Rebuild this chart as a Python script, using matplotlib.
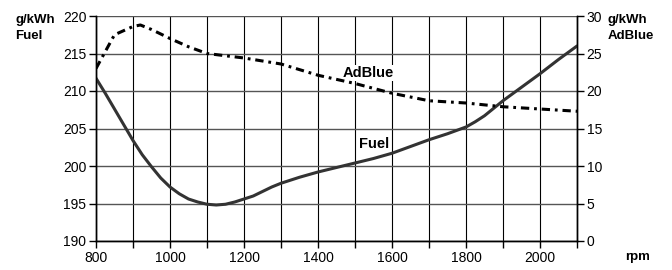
import matplotlib
matplotlib.use("Agg")
import matplotlib.pyplot as plt
from matplotlib.ticker import MultipleLocator

plt.rcParams['font.family'] = ['Liberation Sans', 'DejaVu Sans']
plt.rcParams['lines.scale_dashes'] = False

rpm = [800, 825, 850, 875, 900, 925, 950, 975, 1000, 1025, 1050, 1075, 1100, 1125, 1150, 1175,
       1200, 1225, 1250, 1275, 1300, 1350, 1400, 1450, 1500, 1550, 1600, 1650, 1700, 1750,
       1800, 1825, 1850, 1875, 1900, 1950, 2000, 2050, 2100]
fuel = [211.7, 209.7, 207.6, 205.5, 203.4, 201.5, 199.9, 198.4, 197.2, 196.3, 195.6, 195.2,
        194.9, 194.8, 194.9, 195.2, 195.6, 196.0, 196.6, 197.2, 197.7, 198.5, 199.2, 199.8,
        200.4, 201.0, 201.7, 202.6, 203.5, 204.3, 205.2, 205.9, 206.7, 207.7, 208.7, 210.5,
        212.3, 214.2, 216.0]

rpm_ad = [800, 850, 900, 920, 950, 1000, 1050, 1100, 1200, 1300, 1400, 1500, 1600, 1700, 1800, 1900, 2000, 2100]
adblue = [23.0, 27.5, 28.6, 28.8, 28.2, 27.0, 25.9, 25.0, 24.4, 23.6, 22.1, 21.0, 19.7, 18.7, 18.4, 17.9, 17.6, 17.3]

xticks = [800, 1000, 1200, 1400, 1600, 1800, 2000]

fig = plt.figure(figsize=(6.72, 2.70), dpi=100)
ax = fig.add_axes([96/672, 1-241/270, (577-96)/672, (241-16)/270])
ax2 = ax.twinx()

ax.set_xlim(800, 2100)
ax.set_ylim(190, 220)
ax2.set_ylim(0, 30)

ax.set_xticks(xticks)
ax.xaxis.set_minor_locator(MultipleLocator(100))
ax.yaxis.set_major_locator(MultipleLocator(5))
ax2.yaxis.set_major_locator(MultipleLocator(5))

ax.grid(True, which='minor', axis='x', color='black', linewidth=0.8)
ax.grid(True, which='major', axis='x', color='black', linewidth=0.8)
ax.grid(True, which='major', axis='y', color='#555555', linewidth=1.0)
ax.set_axisbelow(True)

for a in (ax, ax2):
    a.spines['top'].set_visible(False)
    a.spines['left'].set_linewidth(1.0)
    a.spines['right'].set_linewidth(1.0)
    a.spines['bottom'].set_linewidth(1.0)

ax.tick_params(axis='both', which='both', direction='out', length=5, width=1, labelsize=10, pad=2)
ax2.tick_params(axis='y', direction='out', length=5, width=1, labelsize=10, pad=2)

ax.plot(rpm, fuel, color='#333333', linewidth=2.2, solid_capstyle='round',
        solid_joinstyle='round', zorder=3)
ax2.plot(rpm_ad, adblue, color='black', linewidth=2.2, dashes=(6, 3.5, 2, 3.5), zorder=3)

ax.text(1537, 212.4, 'AdBlue', fontsize=10.5, fontweight='bold', ha='center', va='center',
        bbox=dict(facecolor='white', edgecolor='none', pad=0.5), zorder=4)
ax.text(1551, 203.0, 'Fuel', fontsize=10.5, fontweight='bold', ha='center', va='center',
        bbox=dict(facecolor='white', edgecolor='none', pad=0.5), zorder=4)

fig.text(15/672, 1-14/270, 'g/kWh\nFuel', fontsize=9.5, fontweight='bold', ha='left', va='top', linespacing=1.4)
fig.text(608/672, 1-14/270, 'g/kWh\nAdBlue', fontsize=9.5, fontweight='bold', ha='left', va='top', linespacing=1.4)
fig.text(625/672, 1-257/270, 'rpm', fontsize=9.5, fontweight='bold', ha='left', va='center')

fig.savefig('out.png', dpi=100)
